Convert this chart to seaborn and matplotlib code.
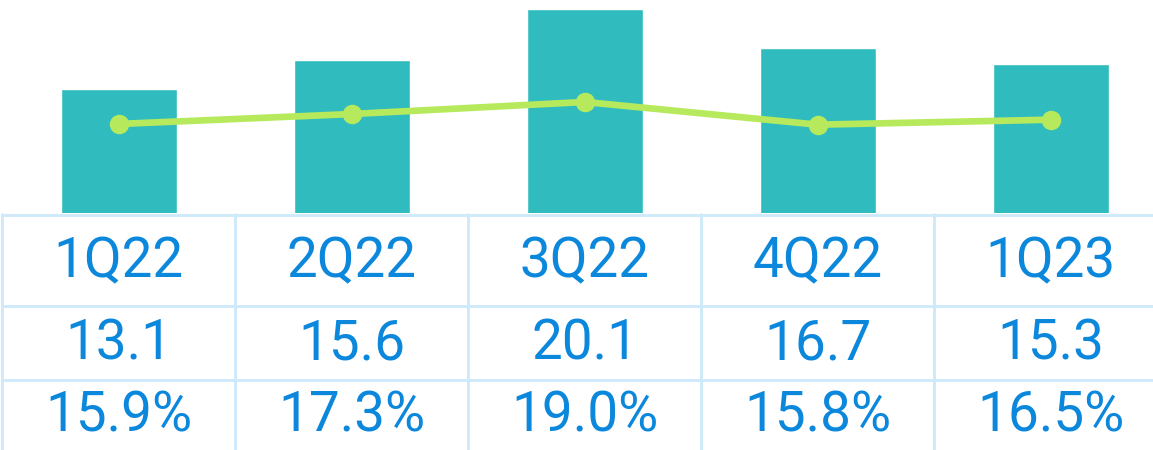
import numpy as np
import pandas as pd
import matplotlib
matplotlib.use("Agg")
import matplotlib.pyplot as plt
import seaborn as sns

quarters = ["1Q22", "2Q22", "3Q22", "4Q22", "1Q23"]
revenue = [13.1, 15.6, 20.1, 16.7, 15.3]
margin = [15.9, 17.3, 19.0, 15.8, 16.5]
revenue_labels = ["13.1", "15.6", "20.1", "16.7", "15.3"]
margin_labels = ["15.9%", "17.3%", "19.0%", "15.8%", "16.5%"]

bar_color = "#30bcbe"
line_color = "#b6ea5c"
text_color = "#0b87dc"
grid_color = "#cde9fa"

sns.set_style("white")
plt.rcParams["font.family"] = ["Roboto", "DejaVu Sans"]

df = pd.DataFrame({"quarter": quarters, "revenue": revenue, "margin": margin})

W, H = 1153, 450
fig = plt.figure(figsize=(W / 100, H / 100), dpi=100)

# верхняя часть: столбцы + линия
top = 213
ax = fig.add_axes([0, (H - top) / H, 1, top / H])
xlim = (-118.8 / 233, (W - 118.8) / 233)
sns.barplot(data=df, x="quarter", y="revenue", color=bar_color, width=0.5,
            saturation=1, ax=ax)
ax.set_xlim(*xlim)
ax.set_ylim(2.25, 20.88)
ax.axis("off")

ax2 = ax.twinx()
ax2.plot(np.arange(len(quarters)), df["margin"], color=line_color, lw=4.8,
         marker="o", markersize=13, solid_capstyle="round")
ax2.set_xlim(*xlim)
ax2.set_ylim(3.36, 33.36)
ax2.axis("off")

# нижняя часть: таблица
tab = fig.add_axes([0, 0, 1, (H - top) / H])
tab.set_xlim(*xlim)
tab.set_ylim(H, top)
tab.axis("off")

lw = 2
for yy in [214.5, 306, 380]:
    tab.plot([xlim[0] + 3 / 233, xlim[1]], [yy, yy], color=grid_color, lw=lw,
             solid_capstyle="butt")
for i in range(len(quarters)):
    tab.plot([i - 0.5, i - 0.5], [214, H], color=grid_color, lw=lw)

rows = [(quarters, 277), (revenue_labels, 360), (margin_labels, 432)]
for labels, base in rows:
    for i, lab in enumerate(labels):
        tab.text(i, base, lab, ha="center", va="baseline", fontsize=39.5,
                 color=text_color)

fig.savefig("out.png", dpi=100)
